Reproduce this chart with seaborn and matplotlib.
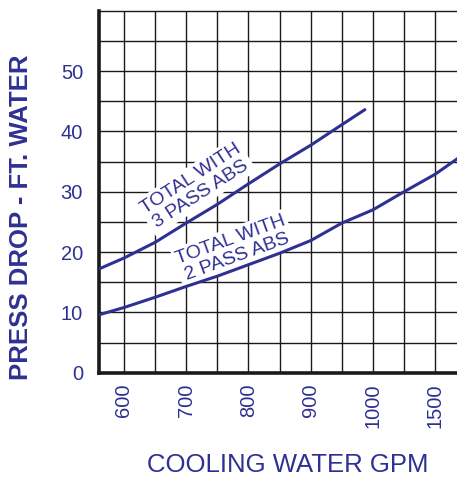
import numpy as np
import pandas as pd
import matplotlib
matplotlib.use("Agg")
import matplotlib.pyplot as plt
import seaborn as sns

# tick values on the (non-uniform) GPM axis
gpm_ticks = [600, 700, 800, 900, 1000, 1500]
gpm_grid = [650, 750, 850, 950, 1250]
y_ticks = [0, 10, 20, 30, 40, 50]
y_grid = [5, 15, 25, 35, 45, 55]

# curve: total with 3 pass ABS
gpm_3pass = [560, 600, 650, 700, 750, 800, 850, 900, 950, 987]
drop_3pass = [17.2, 19.0, 21.6, 24.8, 27.9, 31.3, 34.6, 37.7, 41.1, 43.6]

# total with 2 pass ABS
gpm_2pass = [560, 600, 650, 700, 750, 800, 850, 900, 950, 1000, 1250, 1500, 1680]
drop_2pass = [9.6, 10.8, 12.5, 14.3, 16.0, 17.9, 19.8, 21.9, 24.8, 27.0, 30.0, 32.9, 35.5]

BLUE = "#2e3192"
idx = np.arange(len(gpm_ticks), dtype=float)


def forward(x):
    x = np.asarray(x, dtype=float)
    pos = np.interp(x, gpm_ticks, idx)
    pos = np.where(x < gpm_ticks[0], (x - gpm_ticks[0]) / 100.0, pos)
    pos = np.where(x > gpm_ticks[-1], idx[-1] + (x - gpm_ticks[-1]) / 500.0, pos)
    return pos


def inverse(p):
    p = np.asarray(p, dtype=float)
    x = np.interp(p, idx, gpm_ticks)
    x = np.where(p < 0, gpm_ticks[0] + p * 100.0, x)
    x = np.where(p > idx[-1], gpm_ticks[-1] + (p - idx[-1]) * 500.0, x)
    return x


sns.set_style("white")
plt.rcParams["font.family"] = ["Liberation Sans", "DejaVu Sans"]

df3 = pd.DataFrame({"gpm": gpm_3pass, "drop": drop_3pass})
df2 = pd.DataFrame({"gpm": gpm_2pass, "drop": drop_2pass})

fig = plt.figure(figsize=(4.57, 4.8), dpi=100)
ax = fig.add_axes([0.2166, 0.2235, 0.7834, 0.7542])
ax.set_xscale("function", functions=(forward, inverse))

sns.lineplot(data=df3, x="gpm", y="drop", ax=ax, color=BLUE, lw=2.2, zorder=4)
sns.lineplot(data=df2, x="gpm", y="drop", ax=ax, color=BLUE, lw=2.2, zorder=4)

ax.set_xlim(560, 1675)
ax.set_ylim(0, 60)

ax.set_xticks(gpm_ticks)
ax.set_xticklabels([str(v) for v in gpm_ticks], rotation=90)
ax.set_xticks(gpm_grid, minor=True)
ax.set_yticks(y_ticks)
ax.set_yticks(y_grid, minor=True)

ax.grid(True, which="both", color="#1a1a1a", lw=1.0, zorder=1)
ax.set_axisbelow(True)
ax.tick_params(axis="both", which="major", width=1.0, color="#1a1a1a",
               labelcolor=BLUE, labelsize=14.5, pad=4)
ax.tick_params(axis="x", which="major", length=4)
ax.tick_params(axis="y", which="major", length=7.5)
ax.tick_params(axis="both", which="minor", length=0)

for s in ["left", "bottom"]:
    ax.spines[s].set_linewidth(2.6)
    ax.spines[s].set_color("#1a1a1a")
ax.spines["top"].set_linewidth(1.0)
ax.spines["top"].set_color("#1a1a1a")
ax.spines["right"].set_visible(False)

ax.set_xlabel("COOLING WATER GPM", fontsize=18.5, color=BLUE)
ax.set_ylabel("PRESS DROP - FT. WATER", fontsize=18.5, color=BLUE, fontweight="bold")
ax.xaxis.label.set_va("center")
ax.yaxis.label.set_va("center")
ax.xaxis.set_label_coords(0.528, -0.255)
ax.yaxis.set_label_coords(-0.218, 0.43)

box = dict(facecolor="white", edgecolor="none", pad=2)
ax.text(715, 30.9, "TOTAL WITH\n3 PASS ABS", rotation=33, rotation_mode="anchor",
        ha="center", va="center", color=BLUE, fontsize=14, bbox=box, zorder=3,
        linespacing=1.12)
ax.text(776, 20.6, "TOTAL WITH\n2 PASS ABS", rotation=20, rotation_mode="anchor",
        ha="center", va="center", color=BLUE, fontsize=14, bbox=box, zorder=3,
        linespacing=1.12)

fig.savefig("out.png", dpi=100)
